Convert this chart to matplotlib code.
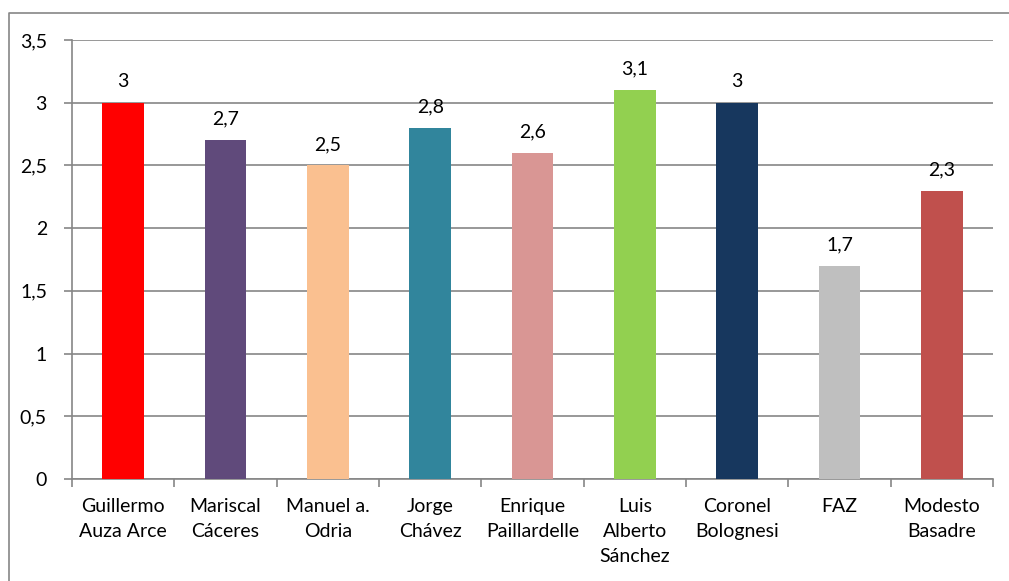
import matplotlib
matplotlib.use("Agg")
import matplotlib.pyplot as plt
from matplotlib.lines import Line2D
import numpy as np

categories = ["Guillermo\nAuza Arce", "Mariscal\nCáceres", "Manuel a.\nOdria",
              "Jorge\nChávez", "Enrique\nPaillardelle", "Luis\nAlberto\nSánchez",
              "Coronel\nBolognesi", "FAZ", "Modesto\nBasadre"]
values = [3, 2.7, 2.5, 2.8, 2.6, 3.1, 3, 1.7, 2.3]
colors = ["#FF0000", "#604A7B", "#FAC090", "#31859C", "#D99694",
          "#92D050", "#17375E", "#BFBFBF", "#C0504D"]
yticks = [0, 0.5, 1, 1.5, 2, 2.5, 3, 3.5]

plt.rcParams["font.family"] = ["Lato", "DejaVu Sans"]
FS = 14

W, H = 1009, 581
fig = plt.figure(figsize=(W / 100, H / 100), dpi=100)
ax = fig.add_axes([72 / W, 1 - 479 / H, (993 - 72) / W, (479 - 40) / H])

x = np.arange(len(values))
ax.bar(x, values, width=0.41, color=colors, zorder=3)

for xi, v in zip(x, values):
    ax.annotate(f"{v:g}".replace(".", ","), (xi, v), xytext=(0, 9),
                textcoords="offset points", ha="center", va="bottom",
                fontsize=FS, color="#000000")

ax.set_xlim(-0.5, len(values) - 0.5)
ax.set_ylim(0, 3.5)
ax.set_yticks(yticks)
ax.set_yticklabels([f"{t:g}".replace(".", ",") for t in yticks], fontsize=FS)
ax.set_xticks(x)
ax.set_xticklabels(categories, fontsize=FS, linespacing=1.55)
ax.set_xticks(np.arange(-0.5, len(values), 1), minor=True)

ax.tick_params(axis="x", which="major", length=0, pad=14)
ax.tick_params(axis="x", which="minor", length=6, color="#868686", width=1.2)
ax.tick_params(axis="y", length=6, color="#868686", width=1.2, pad=12)

ax.grid(axis="y", color="#868686", linewidth=1.2, zorder=0)
for side in ["top", "right"]:
    ax.spines[side].set_visible(False)
for side in ["left", "bottom"]:
    ax.spines[side].set_color("#868686")
    ax.spines[side].set_linewidth(1.2)

# Chart frame on the left and top edges
fig.add_artist(Line2D([8.5 / W, 8.5 / W, 1.0], [0.0, 1 - 12.5 / H, 1 - 12.5 / H],
                      transform=fig.transFigure, color="#868686", linewidth=1.2))

fig.savefig("out.png", dpi=100)
